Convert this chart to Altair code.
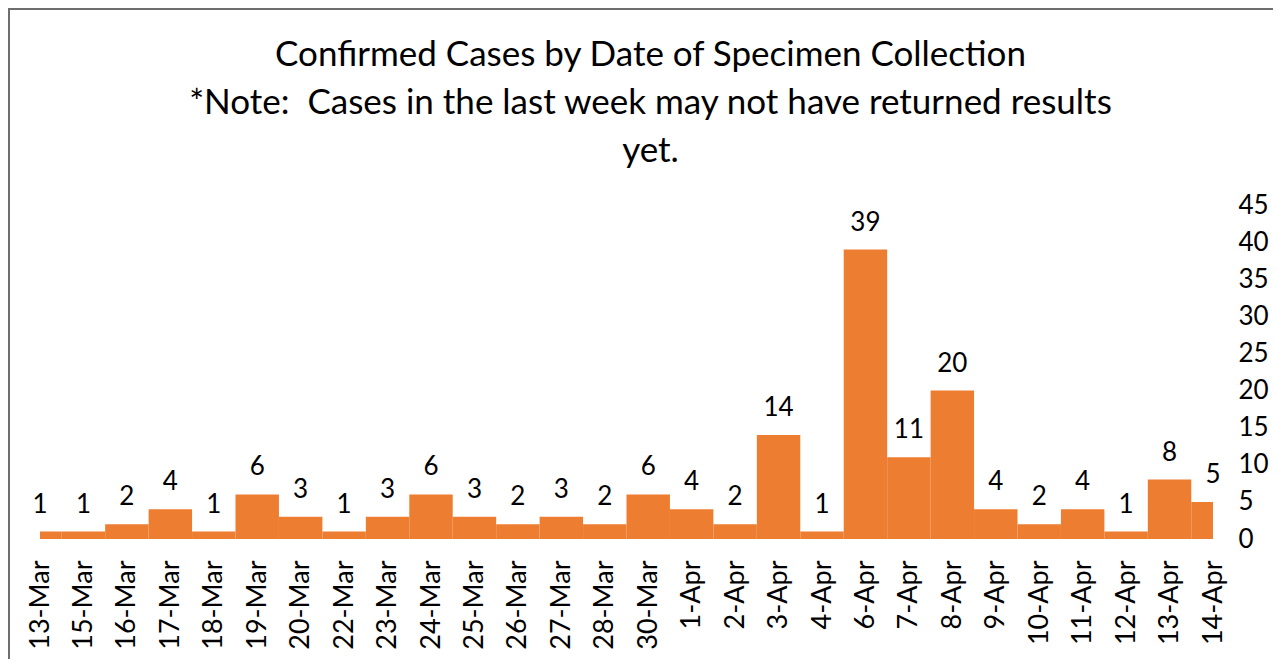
import altair as alt
import pandas as pd

dates = ["13-Mar", "15-Mar", "16-Mar", "17-Mar", "18-Mar", "19-Mar", "20-Mar",
         "22-Mar", "23-Mar", "24-Mar", "25-Mar", "26-Mar", "27-Mar", "28-Mar",
         "30-Mar", "1-Apr", "2-Apr", "3-Apr", "4-Apr", "6-Apr", "7-Apr", "8-Apr",
         "9-Apr", "10-Apr", "11-Apr", "12-Apr", "13-Apr", "14-Apr"]
cases = [1, 1, 2, 4, 1, 6, 3, 1, 3, 6, 3, 2, 3, 2, 6, 4, 2, 14, 1, 39, 11, 20,
         4, 2, 4, 1, 8, 5]
y_ticks = [0, 5, 10, 15, 20, 25, 30, 35, 40, 45]

df = pd.DataFrame({"idx": list(range(len(dates))), "date": dates, "cases": cases})
df["x0"] = df["idx"] - 0.5
df["x1"] = df["idx"] + 0.5

FONT = "Lato"
label_expr = "[" + ",".join("'" + d + "'" for d in dates) + "][datum.value]"

xscale = alt.Scale(domain=[0, len(dates) - 1], nice=False, zero=False)
yscale = alt.Scale(domain=[0, 45], nice=False)

xaxis = alt.Axis(values=list(range(len(dates))), labelExpr=label_expr,
                 labelAngle=-90, labelFontSize=27, labelFont=FONT,
                 labelColor="#000000", labelPadding=21, ticks=False,
                 domain=False, grid=False, title=None,
                 labelOverlap=False, labelFlush=False)
yaxis = alt.Axis(orient="right", values=y_ticks, labelFontSize=26,
                 labelFont=FONT, labelColor="#000000", labelPadding=25,
                 ticks=False, domain=False, grid=False, title=None,
                 labelFlush=False, labelOverlap=False, labelBound=False)

base = alt.Chart(df)

bars = base.mark_bar(color="#ED7D31", clip=True, cornerRadius=0).encode(
    x=alt.X("x0:Q", scale=xscale, axis=xaxis),
    x2="x1:Q",
    y=alt.Y("cases:Q", scale=yscale, axis=yaxis),
    y2=alt.datum(0),
)

labels = base.mark_text(fontSize=26, font=FONT, color="#000000",
                        baseline="alphabetic", dy=-19).encode(
    x=alt.X("idx:Q", scale=xscale, axis=xaxis),
    y=alt.Y("cases:Q", scale=yscale, axis=yaxis),
    text="cases:Q",
)

frame = base.mark_rect(fill=None, stroke="#6e6e6e", strokeWidth=2, clip=False).encode(
    x=alt.value(-31), x2=alt.value(1300), y=alt.value(-196), y2=alt.value(700)
)

chart = alt.layer(bars, labels, frame).properties(
    width=1173,
    height=334,
    title=alt.TitleParams(
        text=["Confirmed Cases by Date of Specimen Collection",
              "*Note:\u00a0 Cases in the last week may not have returned results",
              "yet."],
        font=FONT, fontSize=35, fontWeight="normal", color="#000000",
        anchor="middle", lineHeight=48, offset=-161, dx=24,
    ),
    autosize=alt.AutoSizeParams(type="none"),
    padding={"left": 32, "top": 197, "right": 60, "bottom": 120},
).configure_view(stroke=None).configure_axis(labelOverlap=False)

chart.save("out.html", embed_options={"renderer": "svg", "actions": False})
